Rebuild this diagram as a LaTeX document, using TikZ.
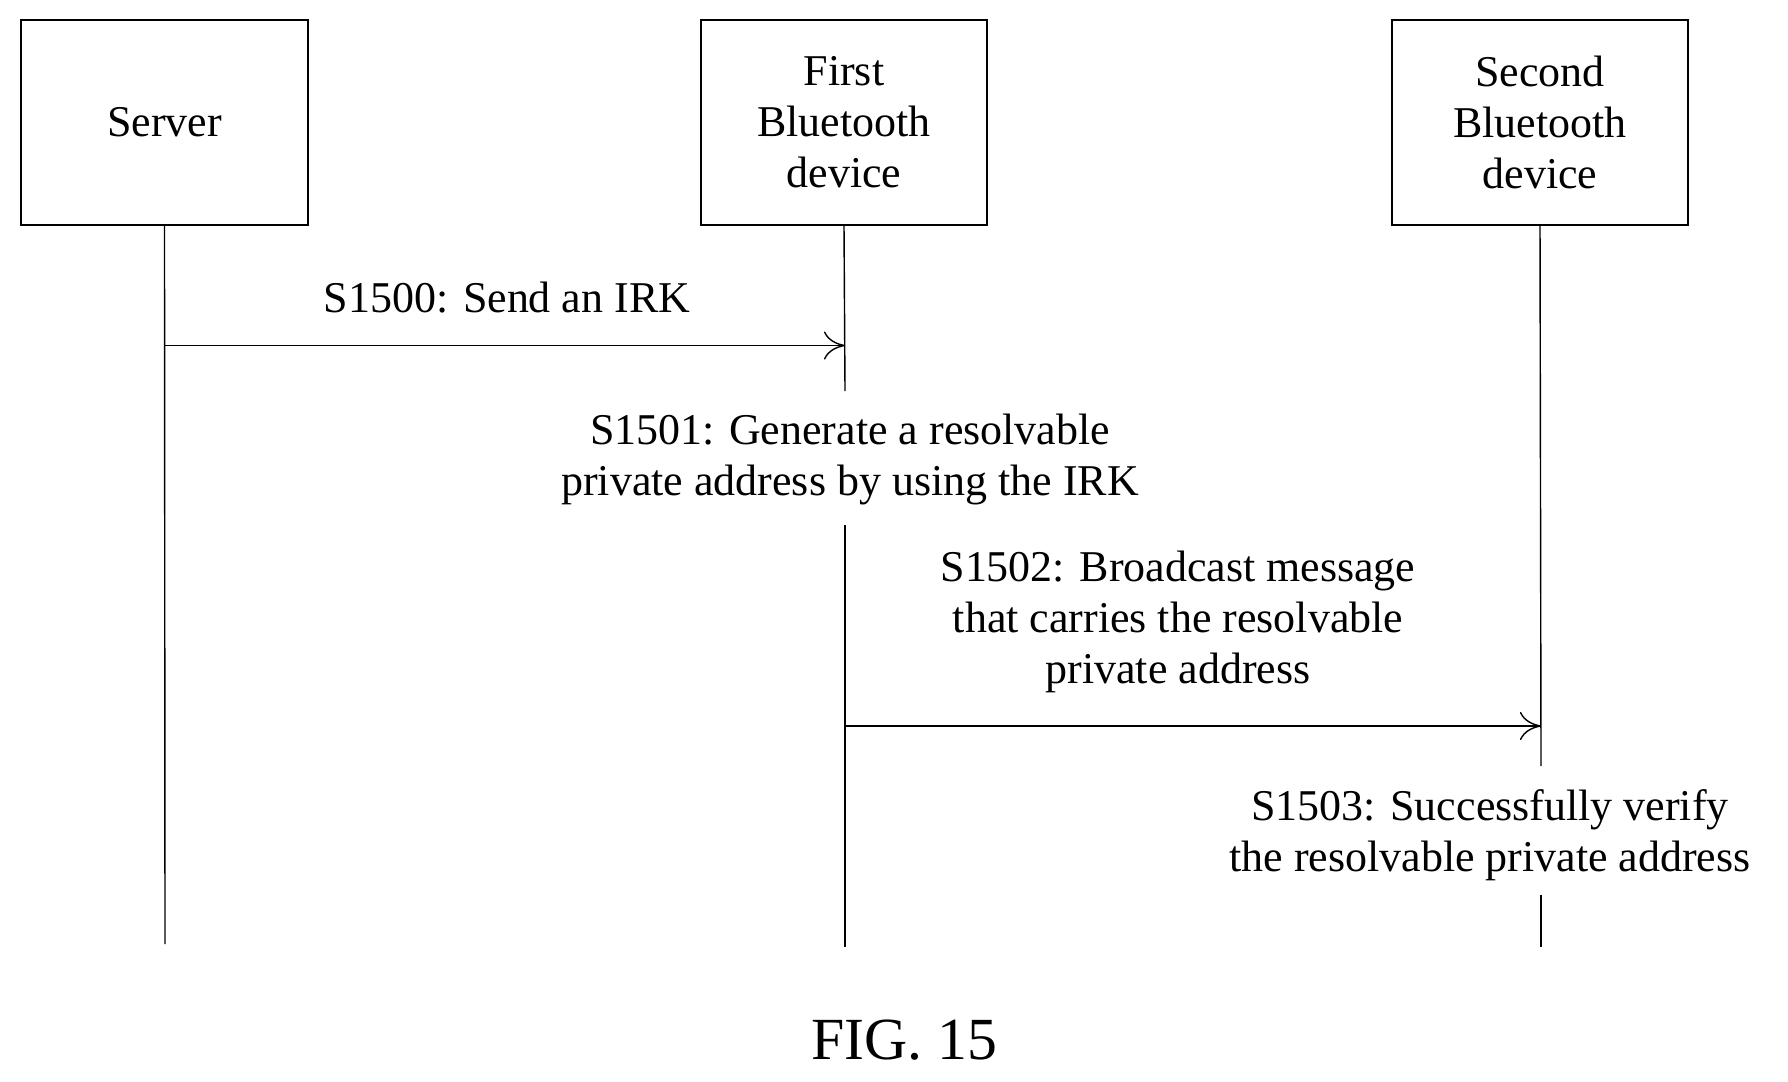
\documentclass[tikz,border=0pt]{standalone}
\usepackage{fontspec}
\setmainfont{Liberation Serif}
\usetikzlibrary{arrows.meta}
\begin{document}
\begin{tikzpicture}[x=0.01cm,y=-0.01cm,
  ent/.style={draw,minimum width=#1,minimum height=2.05cm,align=center,font=\fontsize{12.5}{14.5}\selectfont},
  lbl/.style={align=center,font=\fontsize{12.5}{14.5}\selectfont},
  msg/.style={-{To[length=6pt,width=8pt]}}]
\useasboundingbox (0,0) rectangle (1788,1082);

\node[ent=2.87cm] (server) at (164.5,122.5) {Server};
\node[ent=2.86cm] (first) at (844,122.5) {First\\Bluetooth\\device};
\node[ent=2.96cm] (second) at (1540,122.5) {Second\\Bluetooth\\device};

\coordinate (sEnd) at (165,944);
\coordinate (fA) at (845,391);
\coordinate (fB) at (845,525);
\coordinate (fEnd) at (845,947);
\coordinate (tA) at (1541,766);
\coordinate (tB) at (1541,895);
\coordinate (tEnd) at (1541,947);

\draw (server.south) -- (sEnd);
\draw (first.south) -- (fA);
\draw (fB) -- (fEnd);
\draw (second.south) -- (tA);
\draw (tB) -- (tEnd);

% messages
\coordinate (m1s) at (165,345.5);
\coordinate (m1e) at (845,345.5);
\draw[msg] (m1s) -- (m1e);
\node[lbl] (l1500) at (507,298) {S1500: Send an IRK};

\node[lbl] (l1501) at (850,459) {S1501: Generate a resolvable\\private address by using the IRK};

\coordinate (m2s) at (845,726);
\coordinate (m2e) at (1541,726);
\draw[msg] (m2s) -- (m2e);
\node[lbl] (l1502) at (1178,622) {S1502: Broadcast message\\that carries the resolvable\\private address};

\node[lbl] (l1503) at (1490,835) {S1503: Successfully verify\\the resolvable private address};

\node[font=\fontsize{17}{20}\selectfont] (fig) at (904,1040) {FIG. 15};
\end{tikzpicture}
\end{document}
